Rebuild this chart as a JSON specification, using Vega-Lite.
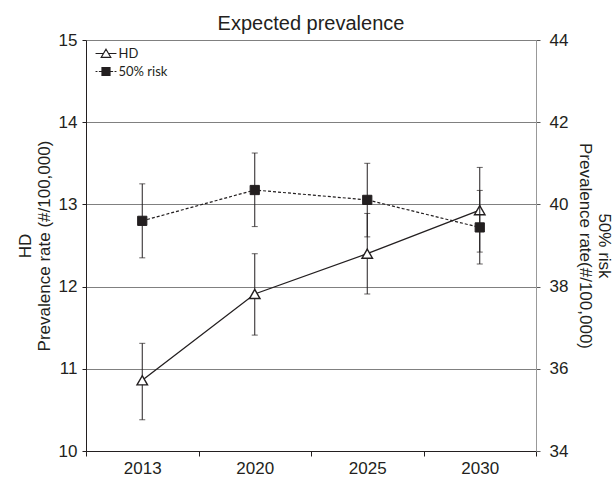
{
  "$schema": "https://vega.github.io/schema/vega-lite/v6.json",
  "width": 450,
  "height": 411,
  "autosize": {"type": "none"},
  "padding": {"left": 86, "top": 40, "right": 79, "bottom": 30},
  "background": "white",
  "title": {"text": "Expected prevalence", "font": "Liberation Sans", "fontSize": 20, "fontWeight": "normal", "color": "#231f20", "offset": -3, "anchor": "middle"},
  "config": {
    "view": {"stroke": null},
    "axis": {"labelFont": "Liberation Sans", "titleFont": "Liberation Sans", "labelFontSize": 17, "titleFontSize": 17, "titleFontWeight": "normal", "labelColor": "#231f20", "titleColor": "#231f20"}
  },
  "data": {
    "values": [
      {"year": "2013", "series": "HD", "value": 10.86, "lo": 10.38, "hi": 11.31},
      {"year": "2020", "series": "HD", "value": 11.91, "lo": 11.41, "hi": 12.40},
      {"year": "2025", "series": "HD", "value": 12.40, "lo": 11.91, "hi": 12.89},
      {"year": "2030", "series": "HD", "value": 12.93, "lo": 12.42, "hi": 13.45},
      {"year": "2013", "series": "50% risk", "value": 39.60, "lo": 38.70, "hi": 40.50},
      {"year": "2020", "series": "50% risk", "value": 40.35, "lo": 39.46, "hi": 41.25},
      {"year": "2025", "series": "50% risk", "value": 40.11, "lo": 39.21, "hi": 41.00},
      {"year": "2030", "series": "50% risk", "value": 39.44, "lo": 38.55, "hi": 40.34}
    ]
  },
  "encoding": {
    "x": {
      "field": "year", "type": "ordinal",
      "scale": {"paddingInner": 0, "paddingOuter": 0},
      "axis": {"title": null, "labelAngle": 0, "tickBand": "extent", "tickSize": 5, "domainColor": "#231f20", "tickColor": "#231f20", "labelPadding": 4, "grid": false}
    }
  },
  "layer": [
    {
      "transform": [{"filter": "datum.series === 'HD'"}],
      "layer": [
        {
          "mark": {"type": "rule", "color": "#231f20", "strokeWidth": 1},
          "encoding": {
            "y": {"field": "lo", "type": "quantitative", "scale": {"domain": [10, 15], "nice": false, "zero": false}, "axis": {"title": ["HD", "Prevalence rate (#/100,000)"], "orient": "left", "values": [10, 11, 12, 13, 14, 15], "grid": true, "gridColor": "#808080", "domainColor": "#231f20", "tickColor": "#231f20", "tickSize": 4, "labelPadding": 5, "titlePadding": 5}},
            "y2": {"field": "hi"}
          }
        },
        {
          "mark": {"type": "tick", "color": "#231f20", "size": 6, "thickness": 1},
          "encoding": {
            "y": {"field": "lo", "type": "quantitative", "scale": {"domain": [10, 15], "nice": false, "zero": false}, "axis": {"title": ["HD", "Prevalence rate (#/100,000)"], "orient": "left", "values": [10, 11, 12, 13, 14, 15], "grid": true, "gridColor": "#808080", "domainColor": "#231f20", "tickColor": "#231f20", "tickSize": 4, "labelPadding": 5, "titlePadding": 5}}
          }
        },
        {
          "mark": {"type": "tick", "color": "#231f20", "size": 6, "thickness": 1},
          "encoding": {
            "y": {"field": "hi", "type": "quantitative", "scale": {"domain": [10, 15], "nice": false, "zero": false}, "axis": {"title": ["HD", "Prevalence rate (#/100,000)"], "orient": "left", "values": [10, 11, 12, 13, 14, 15], "grid": true, "gridColor": "#808080", "domainColor": "#231f20", "tickColor": "#231f20", "tickSize": 4, "labelPadding": 5, "titlePadding": 5}}
          }
        },
        {
          "mark": {"type": "line", "color": "#231f20", "strokeWidth": 1.3},
          "encoding": {
            "y": {"field": "value", "type": "quantitative", "scale": {"domain": [10, 15], "nice": false, "zero": false}, "axis": {"title": ["HD", "Prevalence rate (#/100,000)"], "orient": "left", "values": [10, 11, 12, 13, 14, 15], "grid": true, "gridColor": "#808080", "domainColor": "#231f20", "tickColor": "#231f20", "tickSize": 4, "labelPadding": 5, "titlePadding": 5}}
          }
        },
        {
          "mark": {"type": "point", "shape": "triangle-up", "filled": true, "fill": "white", "stroke": "#231f20", "strokeWidth": 1.4, "opacity": 1, "size": 110},
          "encoding": {
            "y": {"field": "value", "type": "quantitative", "scale": {"domain": [10, 15], "nice": false, "zero": false}, "axis": {"title": ["HD", "Prevalence rate (#/100,000)"], "orient": "left", "values": [10, 11, 12, 13, 14, 15], "grid": true, "gridColor": "#808080", "domainColor": "#231f20", "tickColor": "#231f20", "tickSize": 4, "labelPadding": 5, "titlePadding": 5}}
          }
        },
        {
          "transform": [{"filter": "datum.value < 0"}],
          "mark": {"type": "point", "filled": false, "color": "#231f20", "strokeWidth": 1.2, "opacity": 1, "size": 361},
          "encoding": {
            "y": {"field": "value", "type": "quantitative", "scale": {"domain": [10, 15], "nice": false, "zero": false}, "axis": {"title": ["HD", "Prevalence rate (#/100,000)"], "orient": "left", "values": [10, 11, 12, 13, 14, 15], "grid": true, "gridColor": "#808080", "domainColor": "#231f20", "tickColor": "#231f20", "tickSize": 4, "labelPadding": 5, "titlePadding": 5}},
            "shape": {
              "field": "series", "type": "nominal",
              "scale": {"domain": ["HD", "50% risk"], "range": ["M-1.1,0H-0.25M0.25,0H1.1M0,-0.45L0.5,0.4H-0.5Z", "M-1.1,0H-0.9M-0.75,0H-0.42M0.42,0H0.75M0.9,0H1.1M-0.42,-0.42H0.42V0.42H-0.42ZM-0.42,-0.32H0.42M-0.42,-0.22H0.42M-0.42,-0.12H0.42M-0.42,-0.02H0.42M-0.42,0.08H0.42M-0.42,0.18H0.42M-0.42,0.28H0.42M-0.42,0.36H0.42"]},
              "legend": {
                "title": null, "orient": "none", "legendX": 9.5, "legendY": 3, "padding": 0,
                "symbolSize": 361, "symbolStrokeWidth": 1.2, "symbolStrokeColor": "#231f20", "symbolOpacity": 1,
                "labelFont": "Lato", "labelFontSize": 13, "labelColor": "#231f20", "labelOffset": 2, "rowPadding": 0
              }
            }
          }
        }
      ]
    },
    {
      "transform": [{"filter": "datum.series === '50% risk'"}],
      "layer": [
        {
          "mark": {"type": "rule", "color": "#231f20", "strokeWidth": 1},
          "encoding": {
            "y": {"field": "lo", "type": "quantitative", "scale": {"domain": [34, 44], "nice": false, "zero": false}, "axis": {"title": ["50% risk", "Prevalence rate(#/100,000)"], "orient": "right", "values": [34, 36, 38, 40, 42, 44], "grid": false, "domainColor": "#999999", "tickColor": "#555555", "tickSize": 4, "labelPadding": 9, "titlePadding": 8}},
            "y2": {"field": "hi"}
          }
        },
        {
          "mark": {"type": "tick", "color": "#231f20", "size": 6, "thickness": 1},
          "encoding": {
            "y": {"field": "lo", "type": "quantitative", "scale": {"domain": [34, 44], "nice": false, "zero": false}, "axis": {"title": ["50% risk", "Prevalence rate(#/100,000)"], "orient": "right", "values": [34, 36, 38, 40, 42, 44], "grid": false, "domainColor": "#999999", "tickColor": "#555555", "tickSize": 4, "labelPadding": 9, "titlePadding": 8}}
          }
        },
        {
          "mark": {"type": "tick", "color": "#231f20", "size": 6, "thickness": 1},
          "encoding": {
            "y": {"field": "hi", "type": "quantitative", "scale": {"domain": [34, 44], "nice": false, "zero": false}, "axis": {"title": ["50% risk", "Prevalence rate(#/100,000)"], "orient": "right", "values": [34, 36, 38, 40, 42, 44], "grid": false, "domainColor": "#999999", "tickColor": "#555555", "tickSize": 4, "labelPadding": 9, "titlePadding": 8}}
          }
        },
        {
          "mark": {"type": "line", "color": "#231f20", "strokeWidth": 1.2, "strokeDash": [3, 2]},
          "encoding": {
            "y": {"field": "value", "type": "quantitative", "scale": {"domain": [34, 44], "nice": false, "zero": false}, "axis": {"title": ["50% risk", "Prevalence rate(#/100,000)"], "orient": "right", "values": [34, 36, 38, 40, 42, 44], "grid": false, "domainColor": "#999999", "tickColor": "#555555", "tickSize": 4, "labelPadding": 9, "titlePadding": 8}}
          }
        },
        {
          "mark": {"type": "point", "shape": "square", "filled": true, "fill": "#231f20", "stroke": "#231f20", "strokeWidth": 1, "opacity": 1, "size": 85},
          "encoding": {
            "y": {"field": "value", "type": "quantitative", "scale": {"domain": [34, 44], "nice": false, "zero": false}, "axis": {"title": ["50% risk", "Prevalence rate(#/100,000)"], "orient": "right", "values": [34, 36, 38, 40, 42, 44], "grid": false, "domainColor": "#999999", "tickColor": "#555555", "tickSize": 4, "labelPadding": 9, "titlePadding": 8}}
          }
        }
      ]
    }
  ],
  "resolve": {"scale": {"y": "independent"}}
}
